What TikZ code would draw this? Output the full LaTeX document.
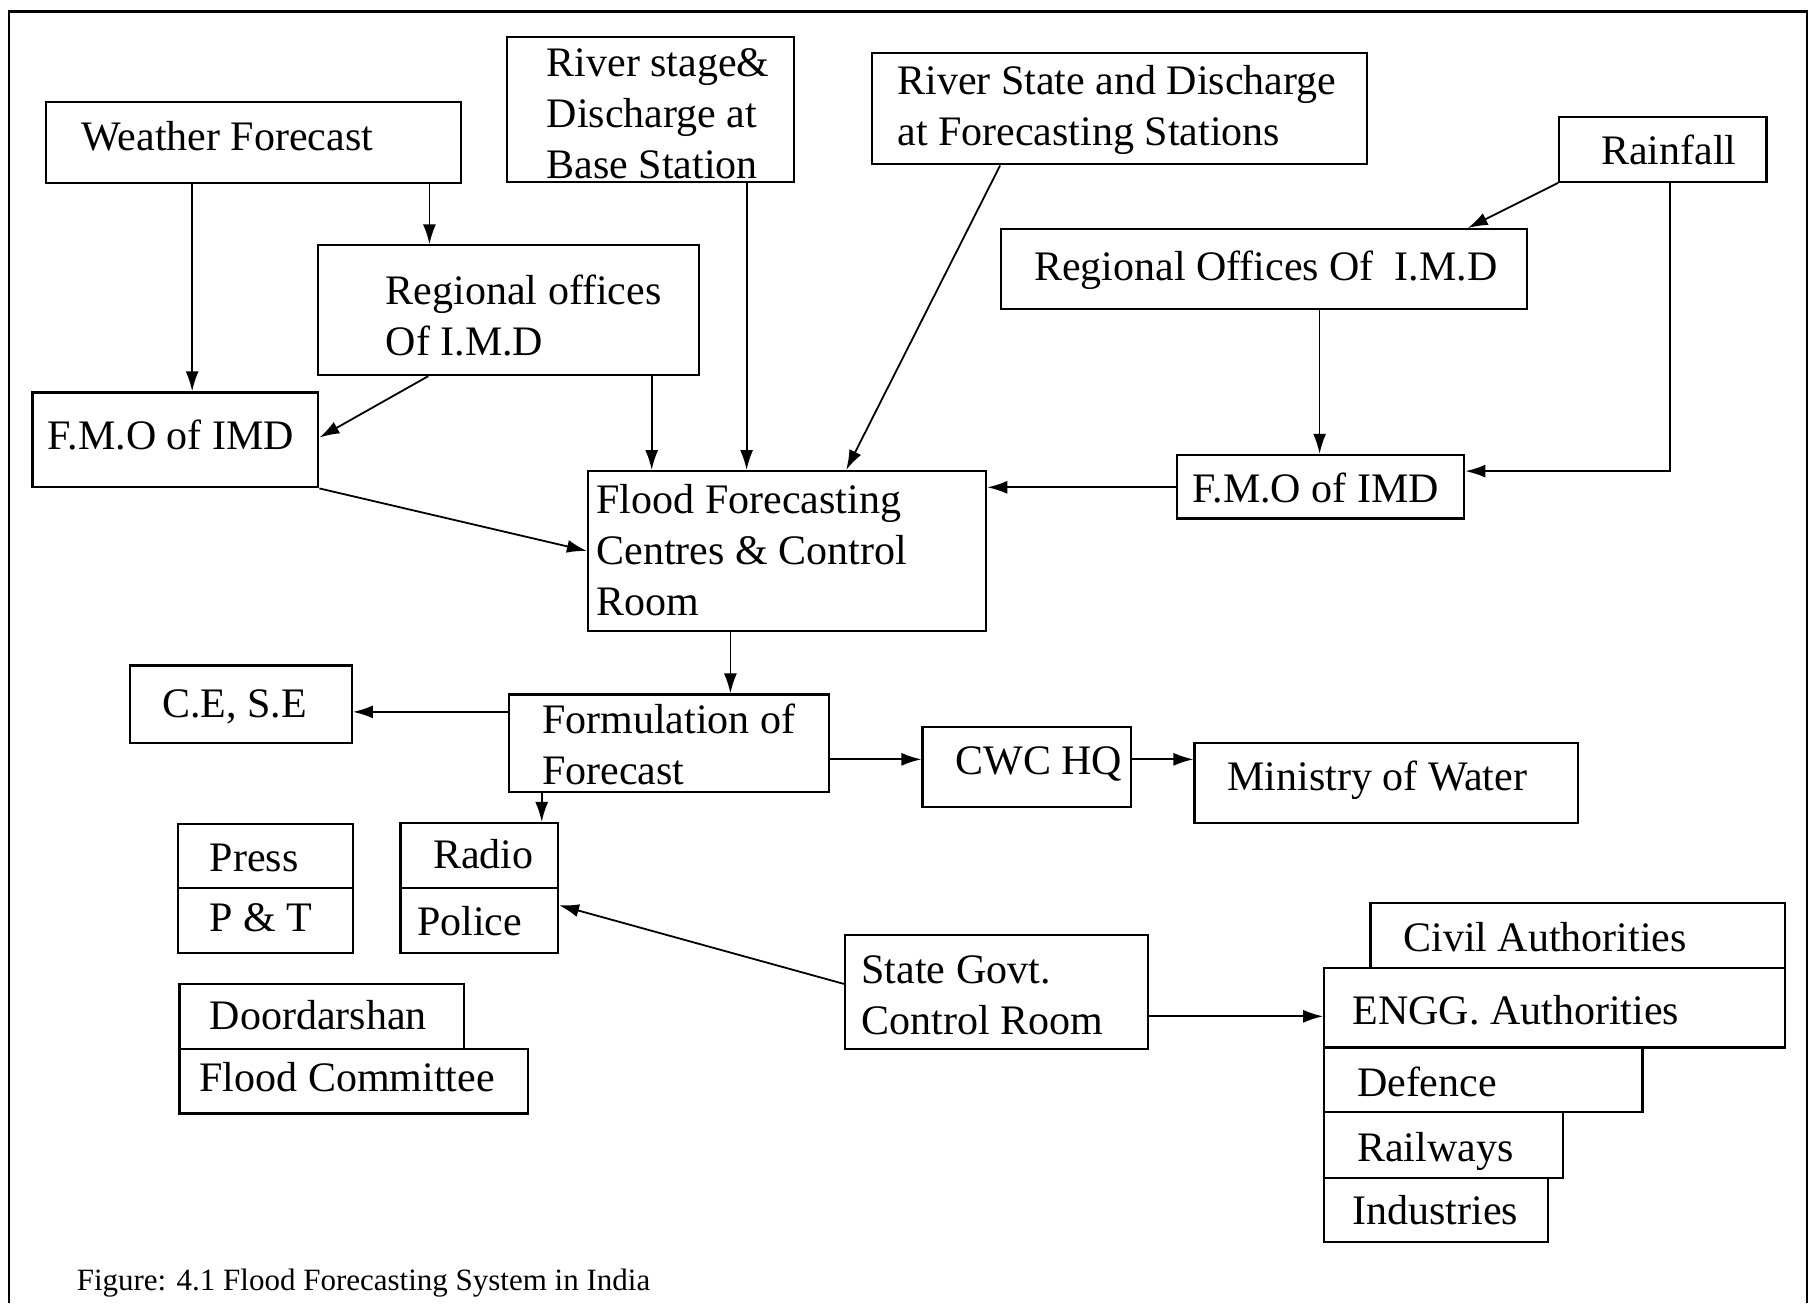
\documentclass[tikz,border=0pt]{standalone}
\usepackage{fontspec}
\setmainfont{Liberation Serif}
\usetikzlibrary{arrows.meta,fit}
\begin{document}
\begin{tikzpicture}[x=0.5788pt,y=-0.5788pt,
  box/.style={draw, line width=1.1pt, inner sep=0pt},
  txt/.style={anchor=base west, inner sep=0pt, align=left, font=\fontsize{21}{25.5}\selectfont},
  arr/.style={-{Latex[length=10pt,width=6.5pt]}, line width=0.9pt}]
\useasboundingbox (0,0) rectangle (1568,1126);
\draw[line width=1.2pt] (8,1126) -- (8,10) -- (1561,10) -- (1561,1126);
% boxes
\node[box, fit={(40,88) (398,158)}] (wf) {};
\node[box, fit={(438,32) (686,157)}] (rsb) {};
\node[box, fit={(753,46) (1181,142)}] (rsd) {};
\node[box, fit={(1347,101) (1526,157)}] (rain) {};
\node[box, fit={(275,212) (604,324)}] (rol) {};
\node[box, fit={(865,198) (1319,267)}] (ror) {};
\node[box, fit={(28,339) (275,421)}] (fmol) {};
\node[box, fit={(1017,393) (1265,448)}] (fmor) {};
\node[box, fit={(508,407) (852,545)}] (ffc) {};
\node[box, fit={(112,575) (304,642)}] (ce) {};
\node[box, fit={(440,600) (716,684)}] (form) {};
\node[box, fit={(797,628) (977,697)}] (cwc) {};
\node[box, fit={(1032,642) (1363,711)}] (min) {};
\node[box, fit={(154,712) (305,767)}] (press) {};
\node[box, fit={(154,767) (305,823)}] (pt) {};
\node[box, fit={(346,711) (482,767)}] (radio) {};
\node[box, fit={(346,767) (482,823)}] (police) {};
\node[box, fit={(155,850) (401,906)}] (dd) {};
\node[box, fit={(155,906) (456,962)}] (fc) {};
\node[box, fit={(730,808) (992,906)}] (sg) {};
\node[box, fit={(1184,780) (1542,836)}] (civil) {};
\node[box, fit={(1144,836) (1542,905)}] (engg) {};
\node[box, fit={(1144,905) (1419,961)}] (def) {};
\node[box, fit={(1144,961) (1350,1018)}] (rail) {};
\node[box, fit={(1144,1018) (1337,1073)}] (ind) {};
% texts (multi-line texts: base = last line)
\node[txt] (t-wf) at (70,130) {Weather Forecast};
\node[txt] (t-rsb) at (472,154) {River stage\&\\Discharge at\\Base Station};
\node[txt] (t-rsd) at (775,126) {River State and Discharge\\at Forecasting Stations};
\node[txt] (t-rain) at (1383,142) {Rainfall};
\node[txt] (t-rol) at (333,307) {Regional offices\\Of I.M.D};
\node[txt] (t-ror) at (893,242) {Regional Offices Of~ I.M.D};
\node[txt] (t-fmol) at (41,388) {F.M.O of IMD};
\node[txt] (t-fmor) at (1030,434) {F.M.O of IMD};
\node[txt] (t-ffc) at (515,532) {Flood Forecasting\\Centres \& Control\\Room};
\node[txt] (t-ce) at (140,620) {C.E, S.E};
\node[txt] (t-form) at (468,678) {Formulation of\\Forecast};
\node[txt] (t-cwc) at (825,669) {CWC HQ};
\node[txt] (t-min) at (1060,683) {Ministry of Water};
\node[txt] (t-press) at (181,753) {Press};
\node[txt] (t-pt) at (181,805) {P \& T};
\node[txt] (t-radio) at (374,750) {Radio};
\node[txt] (t-police) at (360,808) {Police};
\node[txt] (t-dd) at (181,889) {Doordarshan};
\node[txt] (t-fc) at (172,943) {Flood Committee};
\node[txt] (t-sg) at (744,894) {State Govt.\\Control Room};
\node[txt] (t-civil) at (1212,822) {Civil Authorities};
\node[txt] (t-engg) at (1168,885) {ENGG. Authorities};
\node[txt] (t-def) at (1172,947) {Defence};
\node[txt] (t-rail) at (1172,1003) {Railways};
\node[txt] (t-ind) at (1168,1058) {Industries};
\node[anchor=base west, inner sep=0pt, font=\fontsize{15.5}{18}\selectfont] (cap) at (66,1115) {Figure: 4.1 Flood Forecasting System in India};
% connectors
\draw[arr] (166,0 |- wf.south) -- (166,0 |- fmol.north);
\draw[arr] (371,0 |- wf.south) -- (371,0 |- rol.north);
\draw[arr] (370,0 |- rol.south) -- (fmol.east |- 0,378);
\draw[arr] (563,0 |- rol.south) -- (563,0 |- ffc.north);
\draw[arr] (645,0 |- rsb.south) -- (645,0 |- ffc.north);
\draw[arr] (864,0 |- rsd.south) -- (731,0 |- ffc.north);
\draw[arr] (rain.south west) -- (1268,0 |- ror.north);
\draw[arr] (1140,0 |- ror.south) -- (1140,0 |- fmor.north);
\draw[arr] (1443,0 |- rain.south) |- (fmor.east |- 0,407);
\draw[arr] (fmor.west |- 0,421) -- (ffc.east |- 0,421);
\draw[arr] (fmol.south east) -- (ffc.west |- 0,476);
\draw[arr] (631,0 |- ffc.south) -- (631,0 |- form.north);
\draw[arr] (form.west |- 0,615) -- (ce.east |- 0,615);
\draw[arr] (468,0 |- form.south) -- (468,0 |- radio.north);
\draw[arr] (form.east |- 0,656) -- (cwc.west |- 0,656);
\draw[arr] (cwc.east |- 0,656) -- (min.west |- 0,656);
\draw[arr] (sg.west |- 0,850) -- (police.east |- 0,782);
\draw[arr] (sg.east |- 0,878) -- (engg.west |- 0,878);
\end{tikzpicture}
\end{document}
